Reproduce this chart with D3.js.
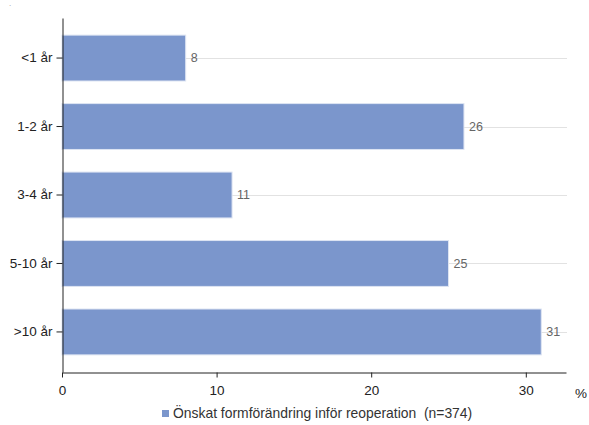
<!DOCTYPE html>
<html><head><meta charset="utf-8">
<script src="https://cdn.jsdelivr.net/npm/d3@7"></script>
<style>body{margin:0;background:#fff}svg{display:block;font-family:"Liberation Sans",Arial,sans-serif}</style>
</head><body>
<svg id="c" width="589" height="425"></svg>
<script>
const categories = ["<1 år", "1-2 år", "3-4 år", "5-10 år", ">10 år"];
const values = [8, 26, 11, 25, 31];
const xTicks = [0, 10, 20, 30];
const seriesName = "Önskat formförändring inför reoperation  (n=374)";

const svg = d3.select("#c");
const FF = "Liberation Sans, Arial, sans-serif";
const x = d3.scaleLinear().domain([0, 32.6]).range([62, 566]);
const y = d3.scaleBand().domain(categories).range([18, 372]).paddingInner(0.33).paddingOuter(0.25);

// gridlines
svg.append("g").selectAll("line").data(categories).join("line")
  .attr("x1", 62).attr("x2", 567)
  .attr("y1", d => Math.round(y(d) + y.bandwidth()/2) + 0.5)
  .attr("y2", d => Math.round(y(d) + y.bandwidth()/2) + 0.5)
  .attr("stroke", "#e2e2e2").attr("stroke-width", 1);

// bars
svg.append("g").selectAll("rect").data(values).join("rect")
  .attr("x", x(0))
  .attr("y", (d,i) => y(categories[i]))
  .attr("width", d => x(d) - x(0))
  .attr("height", y.bandwidth())
  .attr("fill", "#7b96cc")
  .attr("stroke", "#dde4f2").attr("stroke-width", 1);

// value labels
svg.append("g").selectAll("text").data(values).join("text")
  .attr("x", d => x(d) + 5)
  .attr("y", (d,i) => y(categories[i]) + y.bandwidth()/2)
  .attr("dy", "0.35em")
  .attr("font-size", 12.5).attr("fill", "#666")
  .text(d => d);

// y axis
const ya = svg.append("g").attr("transform", "translate(62.5,0)")
  .call(d3.axisLeft(y).tickSize(6).tickPadding(4).tickSizeOuter(0));
ya.select(".domain").attr("stroke", "#222");
ya.selectAll(".tick line").attr("stroke", "#222");
ya.selectAll("text").attr("font-size", 13.5).attr("fill", "#222").attr("font-family", FF);

// x axis
const xa = svg.append("g").attr("transform", "translate(0,372.5)")
  .call(d3.axisBottom(x).tickValues(xTicks).tickSize(5).tickPadding(8).tickSizeOuter(0));
xa.select(".domain").attr("stroke", "#222");
xa.selectAll(".tick line").attr("stroke", "#222");
xa.selectAll("text").attr("font-size", 13.5).attr("fill", "#222").attr("font-family", FF);

svg.append("text").attr("x", 581).attr("y", 393).attr("dy", "0.35em")
  .attr("text-anchor", "middle").attr("font-size", 13.5).attr("fill", "#222").text("%");

// legend
svg.append("rect").attr("x", 162).attr("y", 410).attr("width", 7).attr("height", 7).attr("fill", "#7b96cc");
svg.append("text").attr("x", 173).attr("y", 413.5).attr("dy", "0.35em")
  .attr("xml:space", "preserve").style("white-space", "pre")
  .attr("font-size", 13.9).attr("fill", "#333").text(seriesName);

// tiny top-left mark
svg.append("text").attr("x", 9).attr("y", 6).attr("font-size", 8).attr("fill", "#999").text(".");
</script>
</body></html>
